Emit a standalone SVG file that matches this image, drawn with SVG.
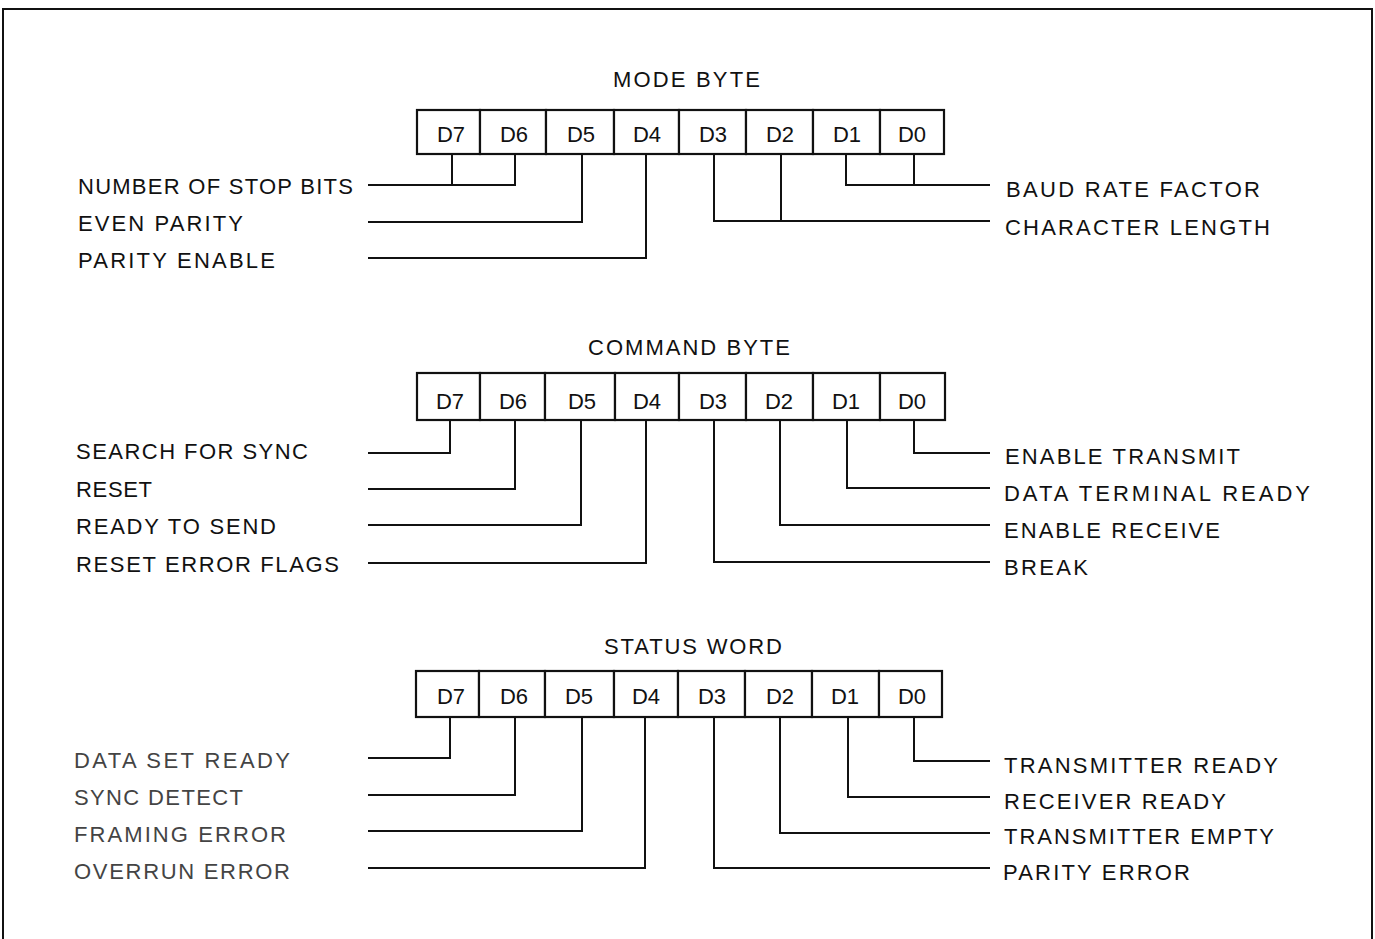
<svg xmlns="http://www.w3.org/2000/svg" width="1375" height="939" viewBox="0 0 1375 939">
<style>
text{font-family:"Liberation Sans",Arial,sans-serif;font-size:22px;fill:#111}
.cell{fill:#fff;stroke:#111;stroke-width:2.2}
.bit{text-anchor:middle}
.faint{fill:#444}
.conn{fill:none;stroke:#111;stroke-width:2}
.frame{fill:none;stroke:#111;stroke-width:2}
</style>
<rect width="1375" height="939" fill="#fff"/>
<path class="frame" d="M3,939 V9 H1372 V939"/>

<!-- MODE BYTE -->
<g id="mode-byte">
<text x="613" y="87" textLength="147" lengthAdjust="spacing">MODE BYTE</text>
<rect class="cell" x="417" y="110" width="63" height="44"/>
<rect class="cell" x="480" y="110" width="66" height="44"/>
<rect class="cell" x="546" y="110" width="68" height="44"/>
<rect class="cell" x="614" y="110" width="65" height="44"/>
<rect class="cell" x="679" y="110" width="67" height="44"/>
<rect class="cell" x="746" y="110" width="67" height="44"/>
<rect class="cell" x="813" y="110" width="67" height="44"/>
<rect class="cell" x="880" y="110" width="64" height="44"/>
<text class="bit" x="451" y="142">D7</text>
<text class="bit" x="514" y="142">D6</text>
<text class="bit" x="581" y="142">D5</text>
<text class="bit" x="647" y="142">D4</text>
<text class="bit" x="713" y="142">D3</text>
<text class="bit" x="780" y="142">D2</text>
<text class="bit" x="847" y="142">D1</text>
<text class="bit" x="912" y="142">D0</text>
</g>
<g id="mode-stop-bits"><text x="78" y="194" textLength="275" lengthAdjust="spacing">NUMBER OF STOP BITS</text></g>
<g id="mode-even-parity"><text x="78" y="231" textLength="165" lengthAdjust="spacing">EVEN PARITY</text></g>
<g id="mode-parity-enable"><text x="78" y="268" textLength="197" lengthAdjust="spacing">PARITY ENABLE</text></g>
<g id="mode-baud-rate"><text x="1006" y="197" textLength="254" lengthAdjust="spacing">BAUD RATE FACTOR</text></g>
<g id="mode-char-length"><text x="1005" y="235" textLength="265" lengthAdjust="spacing">CHARACTER LENGTH</text></g>

<!-- COMMAND BYTE -->
<g id="command-byte">
<text x="588" y="355" textLength="202" lengthAdjust="spacing">COMMAND BYTE</text>
<rect class="cell" x="417" y="373" width="63" height="47"/>
<rect class="cell" x="480" y="373" width="65" height="47"/>
<rect class="cell" x="545" y="373" width="70" height="47"/>
<rect class="cell" x="615" y="373" width="64" height="47"/>
<rect class="cell" x="679" y="373" width="67" height="47"/>
<rect class="cell" x="746" y="373" width="67" height="47"/>
<rect class="cell" x="813" y="373" width="67" height="47"/>
<rect class="cell" x="880" y="373" width="65" height="47"/>
<text class="bit" x="450" y="409">D7</text>
<text class="bit" x="513" y="409">D6</text>
<text class="bit" x="582" y="409">D5</text>
<text class="bit" x="647" y="409">D4</text>
<text class="bit" x="713" y="409">D3</text>
<text class="bit" x="779" y="409">D2</text>
<text class="bit" x="846" y="409">D1</text>
<text class="bit" x="912" y="409">D0</text>
</g>
<g id="cmd-search-sync"><text x="76" y="459" textLength="232" lengthAdjust="spacing">SEARCH FOR SYNC</text></g>
<g id="cmd-reset"><text x="76" y="497" textLength="76" lengthAdjust="spacing">RESET</text></g>
<g id="cmd-ready-to-send"><text x="76" y="534" textLength="200" lengthAdjust="spacing">READY TO SEND</text></g>
<g id="cmd-reset-error"><text x="76" y="572" textLength="263" lengthAdjust="spacing">RESET ERROR FLAGS</text></g>
<g id="cmd-enable-tx"><text x="1005" y="464" textLength="235" lengthAdjust="spacing">ENABLE TRANSMIT</text></g>
<g id="cmd-dtr"><text x="1004" y="501" textLength="306" lengthAdjust="spacing">DATA TERMINAL READY</text></g>
<g id="cmd-enable-rx"><text x="1004" y="538" textLength="216" lengthAdjust="spacing">ENABLE RECEIVE</text></g>
<g id="cmd-break"><text x="1004" y="575" textLength="84" lengthAdjust="spacing">BREAK</text></g>

<!-- STATUS WORD -->
<g id="status-word">
<text x="604" y="654" textLength="178" lengthAdjust="spacing">STATUS WORD</text>
<rect class="cell" x="416" y="671" width="63" height="46"/>
<rect class="cell" x="479" y="671" width="66" height="46"/>
<rect class="cell" x="545" y="671" width="69" height="46"/>
<rect class="cell" x="614" y="671" width="64" height="46"/>
<rect class="cell" x="678" y="671" width="67" height="46"/>
<rect class="cell" x="745" y="671" width="67" height="46"/>
<rect class="cell" x="812" y="671" width="67" height="46"/>
<rect class="cell" x="879" y="671" width="63" height="46"/>
<text class="bit" x="451" y="704">D7</text>
<text class="bit" x="514" y="704">D6</text>
<text class="bit" x="579" y="704">D5</text>
<text class="bit" x="646" y="704">D4</text>
<text class="bit" x="712" y="704">D3</text>
<text class="bit" x="780" y="704">D2</text>
<text class="bit" x="845" y="704">D1</text>
<text class="bit" x="912" y="704">D0</text>
</g>
<g id="st-dsr"><text class="faint" x="74" y="768" textLength="216" lengthAdjust="spacing">DATA SET READY</text></g>
<g id="st-sync-detect"><text class="faint" x="74" y="805" textLength="169" lengthAdjust="spacing">SYNC DETECT</text></g>
<g id="st-framing"><text class="faint" x="74" y="842" textLength="212" lengthAdjust="spacing">FRAMING ERROR</text></g>
<g id="st-overrun"><text class="faint" x="74" y="879" textLength="216" lengthAdjust="spacing">OVERRUN ERROR</text></g>
<g id="st-tx-ready"><text x="1004" y="773" textLength="274" lengthAdjust="spacing">TRANSMITTER READY</text></g>
<g id="st-rx-ready"><text x="1004" y="809" textLength="222" lengthAdjust="spacing">RECEIVER READY</text></g>
<g id="st-tx-empty"><text x="1004" y="844" textLength="270" lengthAdjust="spacing">TRANSMITTER EMPTY</text></g>
<g id="st-parity"><text x="1003" y="880" textLength="187" lengthAdjust="spacing">PARITY ERROR</text></g>

<g id="connectors">
<!-- mode -->
<path class="conn" d="M452,154 V185 M515,154 V185 H368"/>
<path class="conn" d="M582,154 V222 H368"/>
<path class="conn" d="M646,154 V258 H368"/>
<path class="conn" d="M846,154 V185 H990 M914,154 V185"/>
<path class="conn" d="M714,154 V221 H990 M781,154 V221"/>
<!-- command -->
<path class="conn" d="M450,420 V453 H368"/>
<path class="conn" d="M515,420 V489 H368"/>
<path class="conn" d="M581,420 V525 H368"/>
<path class="conn" d="M646,420 V563 H368"/>
<path class="conn" d="M914,420 V453 H990"/>
<path class="conn" d="M847,420 V488 H990"/>
<path class="conn" d="M780,420 V525 H990"/>
<path class="conn" d="M714,420 V562 H990"/>
<!-- status -->
<path class="conn" d="M450,717 V758 H368"/>
<path class="conn" d="M515,717 V795 H368"/>
<path class="conn" d="M582,717 V831 H368"/>
<path class="conn" d="M645,717 V868 H368"/>
<path class="conn" d="M914,717 V761 H990"/>
<path class="conn" d="M848,717 V797 H990"/>
<path class="conn" d="M780,717 V833 H990"/>
<path class="conn" d="M714,717 V868 H990"/>
</g>
</svg>
